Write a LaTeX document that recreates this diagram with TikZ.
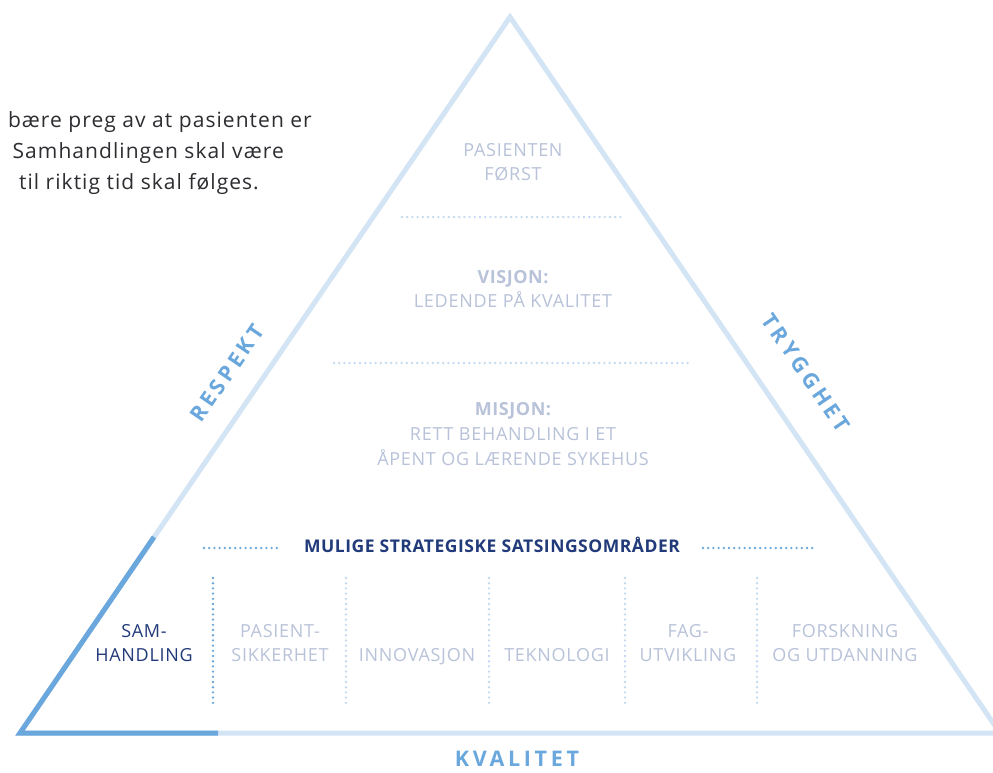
\documentclass[tikz,border=0pt]{standalone}
\usepackage{fontspec}
\setmainfont{Open Sans}
\definecolor{lightln}{RGB}{211,228,244}
\definecolor{dotlight}{RGB}{196,218,240}
\definecolor{midblue}{RGB}{106,167,220}
\definecolor{greyblue}{RGB}{184,194,217}
\definecolor{navy}{RGB}{33,58,122}
\definecolor{bodytext}{RGB}{45,45,50}
\begin{document}
\begin{tikzpicture}[x=1pt,y=-1pt,
  lbl/.style={inner sep=0pt, anchor=base, font=\fontsize{18}{20}\selectfont\addfontfeature{LetterSpace=4}, text=greyblue},
  lblb/.style={lbl, font=\fontsize{18}{20}\selectfont\bfseries\addfontfeature{LetterSpace=3}},
  collbl/.style={lbl},
  body/.style={inner sep=0pt, anchor=base east, font=\fontsize{21}{24}\selectfont\addfontfeature{LetterSpace=5}, text=bodytext},
  side/.style={inner sep=0pt, anchor=base, text=midblue, font=\fontsize{21.5}{24}\selectfont\bfseries\addfontfeature{LetterSpace=17}},
  tri/.style={draw=lightln, line width=5pt, line join=miter},
  darktri/.style={draw=midblue, line width=5pt, line join=miter},
  dotl/.style={draw=dotlight, line width=2.6pt, line cap=round, dash pattern=on 0pt off 5.2pt},
  dotm/.style={dotl, draw=midblue}]
\useasboundingbox (0,0) rectangle (993,772);
\clip (0,0) rectangle (993,772);
\fill[white] (0,0) rectangle (993,772);
% triangle
\coordinate (apex) at (510,17);
\coordinate (bl) at (20,733);
\coordinate (br) at (1000,733);
\coordinate (dl) at (154,537);
\coordinate (db) at (218,733);
\draw[tri] (bl) -- (apex) -- (br) -- cycle;
\draw[darktri] (dl) -- (bl) -- (db);
% cut-off paragraph
\node[body] (p1) at (312,127.5) {bære preg av at pasienten er};
\node[body] (p2) at (284,158.5) {Samhandlingen skal være};
\node[body] (p3) at (259,189.5) {til riktig tid skal følges.};
% top section
\node[lbl] (pas) at (513,156) {PASIENTEN};
\node[lbl] (forst) at (513,180) {FØRST};
\coordinate (d1a) at (402,217); \coordinate (d1b) at (623,217);
\draw[dotl] (d1a) -- (d1b);
\node[lblb] (vis) at (513,283) {VISJON:};
\node[lbl] (led) at (513,307) {LEDENDE PÅ KVALITET};
\coordinate (d2a) at (334,363); \coordinate (d2b) at (688,363);
\draw[dotl] (d2a) -- (d2b);
\node[lblb] (mis) at (513,415) {MISJON:};
\node[lbl] (rett) at (513,440) {RETT BEHANDLING I ET};
\node[lbl] (apent) at (513,465) {ÅPENT OG LÆRENDE SYKEHUS};
% strategic areas
\node[inner sep=0pt, anchor=base, text=navy, font=\fontsize{17.5}{20}\selectfont\bfseries\addfontfeature{LetterSpace=3}] (mul) at (492,552) {MULIGE STRATEGISKE SATSINGSOMRÅDER};
\coordinate (d3a) at (204,548); \coordinate (d3b) at (279,548);
\coordinate (d4a) at (703,548); \coordinate (d4b) at (815,548);
\draw[dotm] (d3a) -- (d3b);
\draw[dotm] (d4a) -- (d4b);
\coordinate (v1a) at (213,578); \coordinate (v1b) at (213,705);
\coordinate (v2a) at (346,578); \coordinate (v2b) at (346,705);
\coordinate (v3a) at (489,578); \coordinate (v3b) at (489,705);
\coordinate (v4a) at (625,578); \coordinate (v4b) at (625,705);
\coordinate (v5a) at (757,578); \coordinate (v5b) at (757,705);
\draw[dotm] (v1a) -- (v1b);
\draw[dotl] (v2a) -- (v2b);
\draw[dotl] (v3a) -- (v3b);
\draw[dotl] (v4a) -- (v4b);
\draw[dotl] (v5a) -- (v5b);
\node[collbl, text=navy] (sam1) at (144,637) {SAM-};
\node[collbl, text=navy] (sam2) at (144,661) {HANDLING};
\node[collbl] (ps1) at (280,637) {PASIENT-};
\node[collbl] (ps2) at (280,661) {SIKKERHET};
\node[collbl] (inn) at (417,661) {INNOVASJON};
\node[collbl] (tek) at (557,661) {TEKNOLOGI};
\node[collbl] (fag1) at (688,637) {FAG-};
\node[collbl] (fag2) at (688,661) {UTVIKLING};
\node[collbl] (for1) at (845,637) {FORSKNING};
\node[collbl] (for2) at (845,661) {OG UTDANNING};
% side labels
\node[side, anchor=center, rotate=55.6] (resp) at (227,373) {RESPEKT};
\node[side, anchor=center, rotate=-55.6] (tryg) at (806,373) {TRYGGHET};
\node[side] (kval) at (517,766) {KVALITET};
\end{tikzpicture}
\end{document}
